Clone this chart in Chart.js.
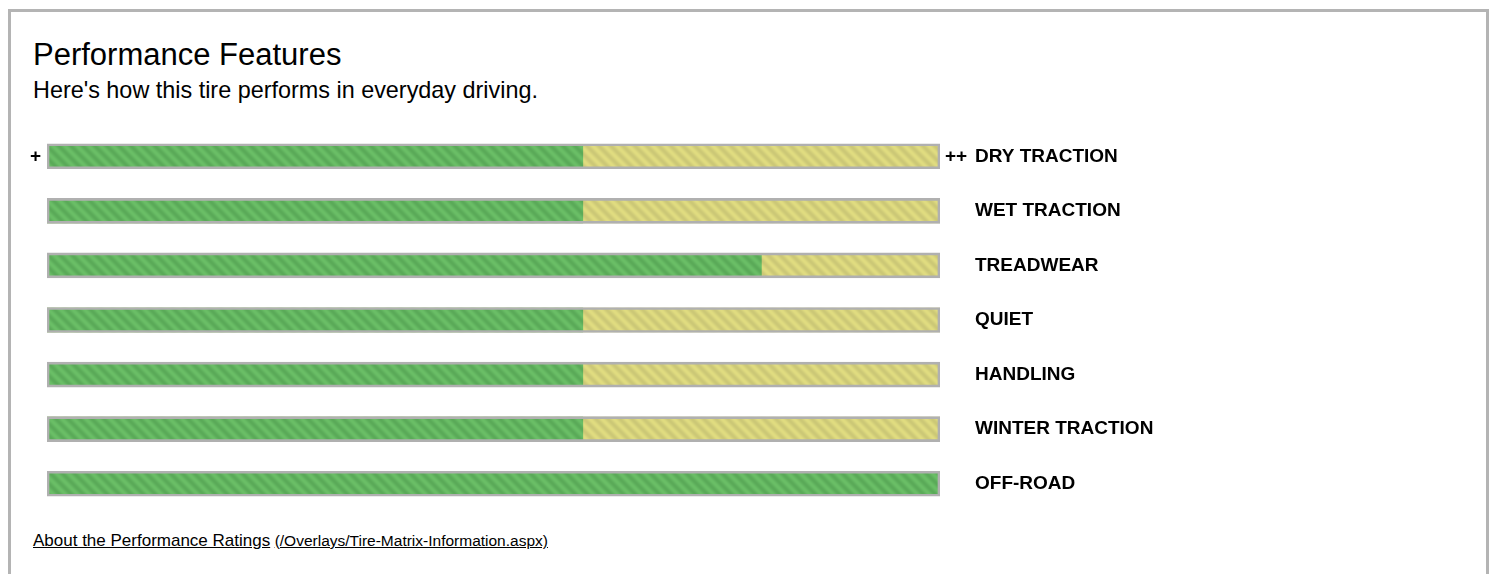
<!DOCTYPE html>
<html>
<head>
<meta charset="utf-8">
<script src="https://cdn.jsdelivr.net/npm/chart.js@4.4.1/dist/chart.umd.min.js"></script>
<style>
  html, body { margin: 0; padding: 0; background: #fff; }
  body { width: 1494px; height: 574px; overflow: hidden; position: relative; font-family: "Liberation Sans", Arial, sans-serif; color: #000; }
  .box { position: absolute; left: 8px; top: 9px; width: 1475px; height: 700px; border: 3px solid #b4b4b4; }
  .title { position: absolute; left: 33px; top: 38px; font-size: 31px; line-height: 34px; white-space: nowrap; }
  .sub { position: absolute; left: 33px; top: 77px; font-size: 23.4px; line-height: 26px; white-space: nowrap; }
  #perf { position: absolute; left: 0; top: 129px; }
  .foot { position: absolute; left: 33px; top: 531px; white-space: nowrap; color: #000; }
  .foot a { color: #000; }
  .foot .big { font-size: 17px; }
  .foot .small { font-size: 15.5px; }
</style>
</head>
<body>
<div class="box"></div>
<div class="title">Performance Features</div>
<div class="sub">Here's how this tire performs in everyday driving.</div>
<canvas id="perf" width="1200" height="382"></canvas>
<div class="foot"><a class="big" href="#">About the Performance Ratings</a> <a class="small" href="#">(/Overlays/Tire-Matrix-Information.aspx)</a></div>
<script>
const categories = ["DRY TRACTION", "WET TRACTION", "TREADWEAR", "QUIET", "HANDLING", "WINTER TRACTION", "OFF-ROAD"];
const ratings = [6, 6, 8, 6, 6, 6, 10];
const maxRating = 10;
const lowMark = "+";
const highMark = "++";

// striped fill, soft diagonal bands running top-left to bottom-right
function stripes(light, dark) {
  const s = 12;
  const c = document.createElement("canvas");
  c.width = s; c.height = s;
  const g = c.getContext("2d");
  const img = g.createImageData(s, s);
  for (let y = 0; y < s; y++) {
    for (let x = 0; x < s; x++) {
      const t = 0.5 + 0.5 * Math.cos(2 * Math.PI * (x - y) / s);
      const i = (y * s + x) * 4;
      for (let k = 0; k < 3; k++) img.data[i + k] = Math.round(dark[k] + (light[k] - dark[k]) * t);
      img.data[i + 3] = 255;
    }
  }
  g.putImageData(img, 0, 0);
  return g.createPattern(c, "repeat");
}

const greenFill = stripes([106, 190, 102], [90, 170, 88]);
const yellowFill = stripes([224, 220, 128], [204, 200, 118]);

const track = categories.map(() => maxRating);

const markers = {
  id: "markers",
  afterDraw(chart) {
    const { ctx, scales } = chart;
    const y = scales.y.getPixelForValue(0);
    ctx.save();
    ctx.font = "bold 19px 'Liberation Sans', Arial, sans-serif";
    ctx.fillStyle = "#000";
    ctx.textBaseline = "middle";
    ctx.textAlign = "right";
    ctx.fillText(lowMark, scales.x.getPixelForValue(0) - 6, y);
    ctx.textAlign = "left";
    ctx.fillText(highMark, scales.x.getPixelForValue(maxRating) + 5, y);
    ctx.restore();
  }
};

new Chart(document.getElementById("perf"), {
  type: "bar",
  data: {
    labels: categories,
    datasets: [
      {
        label: "outline",
        data: track,
        backgroundColor: "rgba(0,0,0,0)",
        borderColor: "#b0b0b0",
        borderWidth: 2,
        borderSkipped: false,
        barThickness: 25,
        grouped: false
      },
      {
        label: "rating",
        data: ratings,
        backgroundColor: greenFill,
        borderWidth: 0,
        barThickness: 24,
        grouped: false
      },
      {
        label: "scale",
        data: track,
        backgroundColor: yellowFill,
        borderWidth: 0,
        barThickness: 24,
        grouped: false
      }
    ]
  },
  options: {
    indexAxis: "y",
    responsive: false,
    animation: false,
    events: [],
    layout: { padding: { left: 47, top: 0, bottom: 0, right: 0 } },
    plugins: { legend: { display: false }, tooltip: { enabled: false } },
    scales: {
      x: { display: false, min: 0, max: maxRating },
      y: {
        position: "right",
        grid: { display: false, drawTicks: false },
        border: { display: false },
        ticks: {
          color: "#000",
          padding: 35,
          font: { family: "'Liberation Sans', Arial, sans-serif", size: 19, weight: "bold" }
        },
        afterFit(scale) {
          scale.width = 260;
          // tick padding would otherwise shrink the plot area top and bottom
          scale.paddingTop = 0;
          scale.paddingBottom = 0;
        }
      }
    }
  },
  plugins: [markers]
});
</script>
</body>
</html>
